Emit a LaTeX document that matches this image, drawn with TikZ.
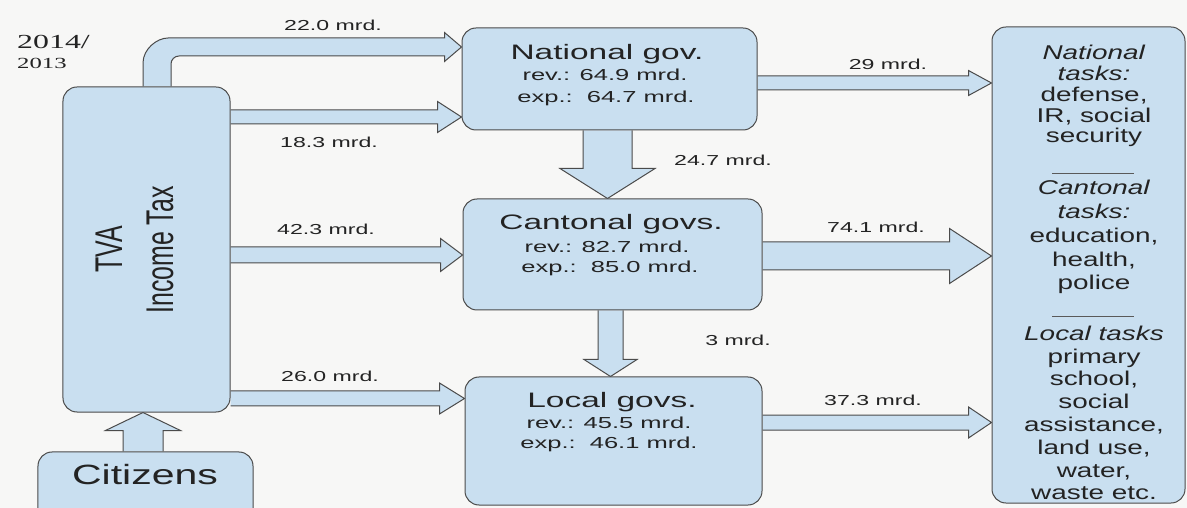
\documentclass[tikz,border=0pt]{standalone}
\usepackage{fontspec}
\setmainfont{Liberation Sans}
\newfontfamily\labf{Liberation Sans}[FakeStretch=1.6]
\newfontfamily\rbf{Liberation Sans}[FakeStretch=1.4]
\newfontfamily\citf{Liberation Sans}[FakeStretch=1.47]
\newfontfamily\yrf{Liberation Serif}[FakeStretch=1.6]
\usetikzlibrary{calc}
\pgfdeclarelayer{back}
\pgfdeclarelayer{arrows}
\pgfsetlayers{back,arrows,main}
\definecolor{boxblue}{RGB}{201,223,240}
\definecolor{bord}{RGB}{75,75,75}
\definecolor{txt}{RGB}{35,35,35}
\definecolor{bgc}{RGB}{247,247,246}
\definecolor{rulec}{RGB}{90,90,90}
% horizontal block arrow: from, to, y, shaft half, head half, head length
\newcommand\blkR[6]{%
  \draw[blk] ($(#1.east |- 0,#3)+(0,-#4)$) -- ($(#2.west |- 0,#3)+(-#6,-#4)$) -- ($(#2.west |- 0,#3)+(-#6,-#5)$) -- (#2.west |- 0,#3) -- ($(#2.west |- 0,#3)+(-#6,#5)$) -- ($(#2.west |- 0,#3)+(-#6,#4)$) -- ($(#1.east |- 0,#3)+(0,#4)$);}
% vertical (downward) block arrow: from, to, x, shaft half, head half, head length
\newcommand\blkD[6]{%
  \draw[blk] ($(#3,0 |- #1.south)+(-#4,0)$) -- ($(#3,0 |- #2.north)+(-#4,-#6)$) -- ($(#3,0 |- #2.north)+(-#5,-#6)$) -- (#3,0 |- #2.north) -- ($(#3,0 |- #2.north)+(#5,-#6)$) -- ($(#3,0 |- #2.north)+(#4,-#6)$) -- ($(#3,0 |- #1.south)+(#4,0)$);}
\begin{document}
\begin{tikzpicture}[x=1bp,y=-1bp,
  box/.style={draw=bord, fill=boxblue, rounded corners=14bp, line width=1bp, inner sep=0pt},
  blk/.style={draw=bord, fill=boxblue, line width=1bp, line join=miter},
  lbl/.style={font=\labf\fontsize{14.5}{16}\selectfont, text=txt, inner sep=0pt},
  ttl/.style={font=\labf\fontsize{21}{24}\selectfont, text=txt, inner sep=0pt, anchor=base},
  sub/.style={font=\labf\fontsize{16}{18}\selectfont, text=txt, inner sep=0pt, anchor=base},
  rtxt/.style={text=txt, inner sep=0pt, align=center},
  rulel/.style={draw=rulec, line width=0.9bp}]
\useasboundingbox (0,0) rectangle (1187,508);
\begin{pgfonlayer}{back}
  \fill[bgc] (0,0) rectangle (1187,508);
\end{pgfonlayer}
\clip (0,0) rectangle (1187,508);

% boxes
\node[box, minimum width=167bp, minimum height=325bp] (tva) at (146.5,249.5) {};
\node[box, minimum width=215bp, minimum height=90bp] (cit) at (145.5,497) {};
\node[box, minimum width=295bp, minimum height=102bp] (nat) at (609.5,79) {};
\node[box, minimum width=299bp, minimum height=111bp] (can) at (612.5,254.5) {};
\node[box, minimum width=297bp, minimum height=128bp] (loc) at (613.5,441) {};
\node[box, minimum width=193bp, minimum height=476bp] (rb) at (1088.5,265) {};

% block arrows
\begin{pgfonlayer}{arrows}
  % bent arrow TVA -> National gov.
  \draw[blk] (143,0 |- tva.north) -- (143,63) .. controls (143,49.2) and (156.8,38) .. (168,38)
     -- ($(nat.west |- 0,47)+(-17,-9)$) -- ($(nat.west |- 0,47)+(-17,-14.5)$) -- (nat.west |- 0,47)
     -- ($(nat.west |- 0,47)+(-17,14.5)$) -- ($(nat.west |- 0,47)+(-17,9)$)
     -- (179,56) .. controls (174.6,56) and (171,59.6) .. (171,64) -- (171,0 |- tva.north);
  \blkR{tva}{nat}{117}{7}{15.5}{24}
  \blkR{tva}{can}{255}{8}{16.5}{22}
  \blkR{tva}{loc}{398.5}{7.5}{15.5}{25}
  \blkR{nat}{rb}{83}{7}{12.5}{23}
  \blkR{can}{rb}{256}{14}{27.5}{42}
  \blkR{loc}{rb}{422.5}{7.5}{15.5}{23}
  \blkD{nat}{can}{607.5}{24.5}{47.5}{30}
  \blkD{can}{loc}{610.5}{12.5}{26.5}{17}
  % Citizens -> TVA (upward)
  \draw[blk] ($(143,0 |- cit.north)+(-20,0)$) -- ($(143,0 |- tva.south)+(-20,18)$) -- ($(143,0 |- tva.south)+(-37.5,18)$) -- (143,0 |- tva.south) -- ($(143,0 |- tva.south)+(37.5,18)$) -- ($(143,0 |- tva.south)+(20,18)$) -- ($(143,0 |- cit.north)+(20,0)$);
\end{pgfonlayer}

% year
\node[font=\yrf\fontsize{20}{22}\selectfont, text=txt, inner sep=0pt, anchor=west] (y1) at (17,42) {2014/};
\node[font=\yrf\fontsize{15.5}{17}\selectfont, text=txt, inner sep=0pt, anchor=west] (y2) at (17,63) {2013};

% TVA texts
\node[rotate=90, anchor=base, inner sep=0pt, text=txt, font=\fontsize{25}{28}\selectfont] (tvat) at (122,249) {\scalebox{1}[1.55]{TVA}};
\node[rotate=90, anchor=base, inner sep=0pt, text=txt, font=\fontsize{25}{28}\selectfont] (inct) at (173,250) {\scalebox{1}[1.55]{Income Tax}};

% Citizens
\node[font=\citf\fontsize{28}{30}\selectfont, text=txt, inner sep=0pt, anchor=base] (citt) at (145,484) {Citizens};

% middle boxes texts
\node[ttl] (natt) at (607,59.5) {National gov.};
\node[sub] (natr) at (605,80.7) {rev.: 64.9 mrd.};
\node[sub] (nate) at (606,102.7) {exp.:\ \ 64.7 mrd.};
\node[ttl] (cant) at (611,229.5) {Cantonal govs.};
\node[sub] (canr) at (607,252.7) {rev.: 82.7 mrd.};
\node[sub] (cane) at (610,272.7) {exp.:\ \ 85.0 mrd.};
\node[ttl] (loct) at (612,407.5) {Local govs.};
\node[sub] (locr) at (609,428.7) {rev.: 45.5 mrd.};
\node[sub] (loce) at (609,448.7) {exp.:\ \ 46.1 mrd.};

% arrow labels
\node[lbl] (l1) at (333,25) {22.0 mrd.};
\node[lbl] (l2) at (329,142) {18.3 mrd.};
\node[lbl] (l3) at (326,229) {42.3 mrd.};
\node[lbl] (l4) at (330,376) {26.0 mrd.};
\node[lbl] (l5) at (888,64) {29 mrd.};
\node[lbl] (l6) at (876,227) {74.1 mrd.};
\node[lbl] (l7) at (873,400) {37.3 mrd.};
\node[lbl] (l8) at (723,160) {24.7 mrd.};
\node[lbl] (l9) at (738,340) {3 mrd.};

% right box texts
\node[rtxt, font=\rbf\fontsize{20}{21}\selectfont] (rb1) at (1094,96) {\textit{National}\\\textit{tasks:}\\defense,\\IR, social\\security};
\draw[rulel] (1052,173) -- (1134,173);
\node[rtxt, font=\rbf\fontsize{20}{24}\selectfont] (rb2) at (1094,237) {\textit{Cantonal}\\\textit{tasks:}\\education,\\health,\\police};
\draw[rulel] (1052,316) -- (1134,316);
\node[rtxt, font=\rbf\fontsize{20}{22.9}\selectfont] (rb3) at (1094,413) {\textit{Local tasks}\\primary\\school,\\social\\assistance,\\land use,\\water,\\waste etc.};
\end{tikzpicture}
\end{document}
